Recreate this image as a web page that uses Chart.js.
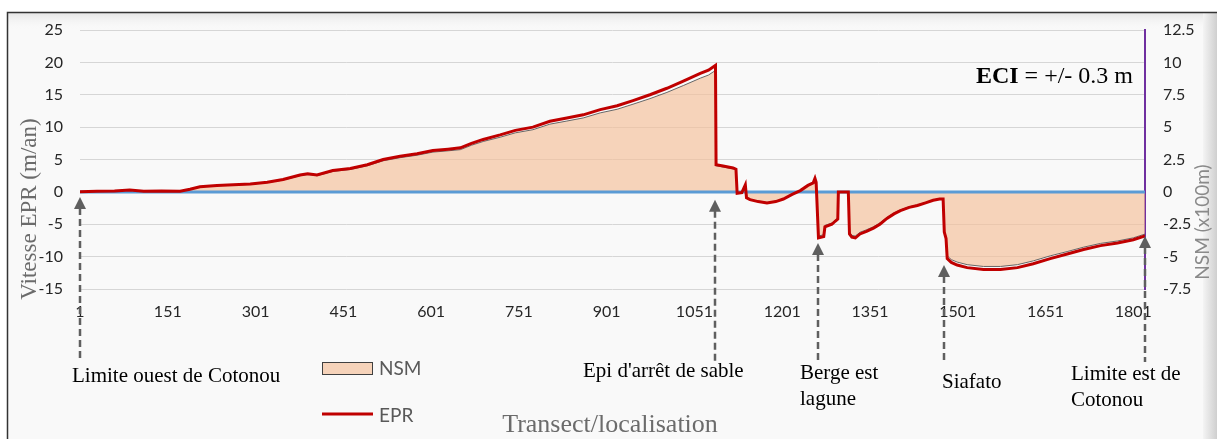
<!DOCTYPE html>
<html>
<head>
<meta charset="utf-8">
<script src="https://cdn.jsdelivr.net/npm/chart.js@4.4.1/dist/chart.umd.min.js"></script>
<style>
  body { margin: 0; background: #fff; }
  canvas { display: block; }
</style>
</head>
<body>
<canvas id="myChart" width="1217" height="439"></canvas>
<script>
// transect numbers (x)
var transects = [1, 30, 60, 86, 110, 140, 172, 189, 206, 235, 263, 292, 321, 348, 377, 390, 406, 433, 463, 492,
  519, 548, 577, 604, 630, 651, 670, 690, 719, 745, 775, 804, 833, 861, 890, 919, 946, 975, 1004, 1032,
  1061, 1075, 1083, 1087, 1088, 1100, 1117, 1122, 1124, 1132, 1138, 1140, 1146, 1160, 1175, 1190, 1203, 1218, 1232, 1245,
  1254, 1257, 1259, 1263, 1272, 1274, 1286, 1292, 1296, 1297, 1314, 1316, 1320, 1326, 1334, 1345, 1357, 1368, 1380, 1392,
  1403, 1418, 1432, 1446, 1459, 1470, 1476, 1478, 1481, 1483, 1490, 1500, 1517, 1545, 1574, 1603, 1630, 1659, 1688, 1716,
  1745, 1774, 1801, 1821];

// EPR (m/an), left axis
var epr = [0, 0.1, 0.15, 0.3, 0.1, 0.15, 0.1, 0.4, 0.8, 1.0, 1.1, 1.2, 1.5, 1.9, 2.6, 2.8, 2.6, 3.3, 3.6, 4.2,
  5.0, 5.5, 5.9, 6.4, 6.6, 6.8, 7.5, 8.1, 8.8, 9.5, 10.0, 10.9, 11.4, 11.9, 12.7, 13.3, 14.1, 15.0, 16.0, 17.1,
  18.3, 18.8, 19.3, 19.55, 4.2, 4.0, 3.7, 3.5, -0.2, -0.1, 1.1, -0.9, -1.2, -1.5, -1.7, -1.5, -1.1, -0.4, 0.2, 1.0,
  1.4, 2.1, 1.5, -7.1, -6.9, -5.4, -5.0, -4.5, -4.2, 0, 0, -6.5, -7.0, -7.1, -6.5, -6.1, -5.6, -5.0, -4.1, -3.4,
  -2.9, -2.4, -2.1, -1.7, -1.3, -1.1, -1.1, -6.2, -7.2, -10.3, -10.9, -11.3, -11.7, -12.0, -12.0, -11.7, -11.1, -10.3, -9.6, -8.9,
  -8.3, -7.9, -7.4, -6.8];

// NSM (x100m), right axis
var nsm = [0, 0.05, 0.07, 0.14, 0.05, 0.07, 0.05, 0.19, 0.38, 0.48, 0.53, 0.58, 0.72, 0.91, 1.25, 1.34, 1.25, 1.58, 1.73, 2.02,
  2.4, 2.64, 2.83, 3.07, 3.17, 3.26, 3.6, 3.89, 4.22, 4.56, 4.8, 5.23, 5.47, 5.71, 6.1, 6.38, 6.77, 7.2, 7.68, 8.21,
  8.78, 9.02, 9.26, 9.38, 2.02, 1.92, 1.78, 1.68, -0.1, -0.05, 0.53, -0.43, -0.58, -0.72, -0.82, -0.72, -0.53, -0.19, 0.1, 0.48,
  0.67, 1.0, 0.72, -3.41, -3.31, -2.59, -2.4, -2.16, -2.02, 0, 0, -3.12, -3.36, -3.41, -3.12, -2.93, -2.69, -2.4, -1.97, -1.63,
  -1.39, -1.15, -1.01, -0.82, -0.62, -0.53, -0.53, -2.98, -3.46, -4.94, -5.23, -5.42, -5.62, -5.76, -5.76, -5.62, -5.33, -4.94, -4.61, -4.27,
  -3.98, -3.79, -3.55, -3.26];

var xTicks = [1, 151, 301, 451, 601, 751, 901, 1051, 1201, 1351, 1501, 1651, 1801];

// location arrows: transect, arrow tip (EPR value), label lines
var places = [
  { t: 1, tip: -0.8, text: ['Limite ouest de Cotonou'], lx: 72, ly: 376 },
  { t: 1087, tip: -1.2, text: ["Epi d'arrêt de sable"], lx: 583, ly: 371 },
  { t: 1262, tip: -7.9, text: ['Berge est', 'lagune'], lx: 800, ly: 373 },
  { t: 1477, tip: -11.3, text: ['Siafato'], lx: 942, ly: 382 },
  { t: 1821, tip: -6.8, text: ['Limite est de', 'Cotonou'], lx: 1071, ly: 374 }
];

var serif = '"Liberation Serif", "Times New Roman", serif';
var tickFont = { family: 'Lato', size: 16 };

var decor = {
  id: 'decor',
  beforeDraw: function(chart) {
    var c = chart.ctx;
    c.save();
    c.fillStyle = '#fff';
    c.fillRect(0, 0, 1217, 439);
    c.fillStyle = '#f9f9f9';
    c.fillRect(7, 12, 1210, 427);
    var g = c.createLinearGradient(0, 13, 0, 30);
    g.addColorStop(0, '#e6e6e6');
    g.addColorStop(1, 'rgba(249,249,249,0)');
    c.fillStyle = g;
    c.fillRect(7, 13, 1200, 17);
    var g2 = c.createLinearGradient(1203, 0, 1217, 0);
    g2.addColorStop(0, '#f4f4f4');
    g2.addColorStop(1, '#cfcfcf');
    c.fillStyle = g2;
    c.fillRect(1203, 13, 14, 426);
    c.strokeStyle = '#333';
    c.lineWidth = 1.5;
    c.beginPath();
    c.moveTo(7.5, 439);
    c.lineTo(7.5, 12.5);
    c.lineTo(1217, 12.5);
    c.stroke();
    c.restore();
  },
  afterDatasetDraw: function(chart, args) {
    if (args.index !== 1) return;
    // zero line over the area
    var a = chart.chartArea;
    var y0 = chart.scales.y.getPixelForValue(0);
    var c = chart.ctx;
    c.save();
    c.strokeStyle = '#5b9bd5';
    c.lineWidth = 3;
    c.beginPath();
    c.moveTo(a.left, y0);
    c.lineTo(a.right, y0);
    c.stroke();
    c.restore();
  },
  afterDraw: function(chart) {
    var c = chart.ctx;
    var xs = chart.scales.x, ys = chart.scales.y;
    c.save();

    // arrows
    places.forEach(function(p) {
      var x = Math.round(xs.getPixelForValue(p.t));
      var tipY = ys.getPixelForValue(p.tip);
      c.strokeStyle = '#5f5f5f';
      c.fillStyle = '#5f5f5f';
      c.lineWidth = 2.5;
      c.setLineDash([7, 4]);
      c.beginPath();
      c.moveTo(x, tipY + 11);
      c.lineTo(x, 362);
      c.stroke();
      c.setLineDash([]);
      c.beginPath();
      c.moveTo(x, tipY);
      c.lineTo(x - 6, tipY + 12);
      c.lineTo(x + 6, tipY + 12);
      c.closePath();
      c.fill();

      c.fillStyle = '#000';
      c.font = '21px ' + serif;
      c.textAlign = 'left';
      c.textBaseline = 'middle';
      p.text.forEach(function(s, i) {
        c.fillText(s, p.lx, p.ly + i * 26);
      });
    });

    // ECI note
    c.textBaseline = 'alphabetic';
    c.textAlign = 'left';
    c.font = 'bold 24px ' + serif;
    var w1 = c.measureText('ECI').width;
    c.font = '24px ' + serif;
    var w2 = c.measureText(' = +/- 0.3 m').width;
    var x0 = 1133 - w1 - w2;
    c.fillStyle = '#000';
    c.font = 'bold 24px ' + serif;
    c.fillText('ECI', x0, 83);
    c.font = '24px ' + serif;
    c.fillText(' = +/- 0.3 m', x0 + w1, 83);

    // axis titles
    c.fillStyle = '#6b6b6b';
    c.textAlign = 'center';
    c.textBaseline = 'middle';
    c.save();
    c.translate(30, 209);
    c.rotate(-Math.PI / 2);
    c.font = '23px ' + serif;
    c.fillText('Vitesse EPR (m/an)', 0, 0);
    c.restore();

    c.save();
    c.translate(1203, 222);
    c.rotate(-Math.PI / 2);
    c.fillStyle = '#8a8a8a';
    c.font = '19px Lato';
    c.fillText('NSM (x100m)', 0, 0);
    c.restore();

    c.font = '26px ' + serif;
    c.fillText('Transect/localisation', 610, 425);

    // legend
    c.fillStyle = 'rgba(245,190,152,0.65)';
    c.fillRect(322.5, 362.5, 50, 12);
    c.strokeStyle = '#404040';
    c.lineWidth = 1;
    c.strokeRect(322.5, 362.5, 50, 12);
    c.strokeStyle = '#c00000';
    c.lineWidth = 3;
    c.beginPath();
    c.moveTo(322, 414);
    c.lineTo(373, 414);
    c.stroke();
    c.fillStyle = '#595959';
    c.font = '19px Lato';
    c.textAlign = 'left';
    c.fillText('NSM', 379, 369);
    c.fillText('EPR', 379, 416);

    c.restore();
  }
};

var ctx = document.getElementById('myChart').getContext('2d');
var myChart = new Chart(ctx, {
  type: 'line',
  data: {
    datasets: [{
      label: 'EPR',
      data: transects.map(function(t, i) { return { x: t, y: epr[i] }; }),
      borderColor: '#c00000',
      borderWidth: 3,
      pointRadius: 0,
      tension: 0,
      fill: false,
      yAxisID: 'y',
      order: 0
    }, {
      label: 'NSM',
      data: transects.map(function(t, i) { return { x: t, y: nsm[i] }; }),
      borderColor: '#666',
      borderWidth: 1,
      backgroundColor: 'rgba(245,190,152,0.65)',
      pointRadius: 0,
      tension: 0,
      fill: 'origin',
      yAxisID: 'y2',
      order: 1
    }]
  },
  options: {
    responsive: false,
    animation: false,
    devicePixelRatio: 1,
    layout: { padding: { top: 30, left: 0, right: 0, bottom: 0 } },
    plugins: {
      legend: { display: false },
      tooltip: { enabled: false }
    },
    scales: {
      x: {
        type: 'linear',
        min: 1,
        max: 1821,
        afterBuildTicks: function(s) { s.ticks = xTicks.map(function(v) { return { value: v }; }); },
        afterFit: function(s) { s.height = 150; },
        grid: { display: false, drawTicks: false },
        border: { display: false },
        ticks: {
          autoSkip: false,
          maxRotation: 0,
          padding: 13,
          color: '#262626',
          font: tickFont,
          callback: function(v) { return String(v); }
        }
      },
      y: {
        position: 'left',
        min: -15,
        max: 25,
        afterFit: function(s) { s.width = 80; },
        grid: { color: '#d6d6d6', lineWidth: 1, drawTicks: false },
        border: { display: false },
        ticks: {
          stepSize: 5,
          padding: 17,
          color: '#262626',
          font: tickFont
        }
      },
      y2: {
        position: 'right',
        min: -7.5,
        max: 12.5,
        afterFit: function(s) { s.width = 72; },
        grid: { drawOnChartArea: false, drawTicks: false },
        border: { display: true, color: '#7030a0', width: 2 },
        ticks: {
          stepSize: 2.5,
          padding: 18,
          color: '#262626',
          font: tickFont
        }
      }
    }
  },
  plugins: [decor]
});
</script>
</body>
</html>
